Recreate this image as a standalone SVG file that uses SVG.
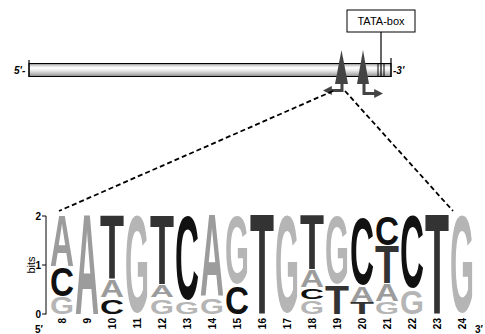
<svg xmlns="http://www.w3.org/2000/svg" width="485" height="334" viewBox="0 0 485 334">
  <defs>
    <linearGradient id="tube" x1="0" y1="0" x2="0" y2="1">
      <stop offset="0" stop-color="#777"/>
      <stop offset="0.12" stop-color="#c8c8c8"/>
      <stop offset="0.32" stop-color="#ffffff"/>
      <stop offset="0.5" stop-color="#f0f0f0"/>
      <stop offset="0.75" stop-color="#c4c4c4"/>
      <stop offset="1" stop-color="#8a8a8a"/>
    </linearGradient>
    <marker id="head" viewBox="0 0 10 10" refX="2" refY="5" markerWidth="3" markerHeight="3.4" orient="auto" markerUnits="strokeWidth">
      <path d="M0,0 L10,5 L0,10 Z" fill="#444"/>
    </marker>
  </defs>
  <style>
    .lbl { font-family: "Liberation Sans", Arial, sans-serif; fill: #000; }
    .end { font-size: 10px; font-weight: bold; font-style: italic; }
    .tick { font-size: 10px; font-weight: bold; text-anchor: end; }
    .pos { font-size: 10px; font-weight: bold; text-anchor: end; }
    .nt { font-family: "Liberation Sans", Arial, sans-serif; font-weight: bold; font-size: 100px; }
    .A { fill: #9c9c9c; }
    .C { fill: #111111; }
    .G { fill: #b5b5b5; }
    .T { fill: #333333; }
    .dash { fill: none; stroke: #000; stroke-width: 1.8; stroke-dasharray: 5 3; }
    .arrow { fill: none; stroke: #444; stroke-width: 3; marker-end: url(#head); }
    .site { fill: #444; }
  </style>

  <!-- promoter sequence drawn as a tube -->
  <g id="gene">
    <rect x="29" y="63.5" width="362" height="13" fill="url(#tube)" stroke="#000" stroke-width="1"/>
    <line x1="29" y1="60" x2="29" y2="77" stroke="#000" stroke-width="1.2"/>
    <line x1="391" y1="58" x2="391" y2="77" stroke="#000" stroke-width="1.2"/>
    <line x1="378" y1="63.5" x2="378" y2="76.5" stroke="#000" stroke-width="1"/>
    <line x1="384" y1="63.5" x2="384" y2="76.5" stroke="#000" stroke-width="1"/>
    <text class="lbl end" x="14" y="74">5'-</text>
    <text class="lbl end" x="393" y="74">-3'</text>
  </g>

  <g id="tata-box">
    <rect x="347" y="10" width="68" height="22" fill="#fff" stroke="#000" stroke-width="1"/>
    <text class="lbl" x="381" y="25" font-size="11" text-anchor="middle">TATA-box</text>
  </g>

  <!-- binding sites with their orientation arrows -->
  <g id="site-1">
    <polygon class="site" points="341.5,50 335,84 348,84"/>
    <path class="arrow" d="M342,82 V90.5 H330"/>
  </g>
  <g id="site-2">
    <polygon class="site" points="363,50 357,84 369,84"/>
    <path class="arrow" d="M364,82 V93.5 H376"/>
  </g>

  <g id="connectors">
    <line x1="381" y1="32" x2="381" y2="76.5" stroke="#000" stroke-width="1.2"/>
    <line class="dash" x1="333" y1="91" x2="59" y2="211"/>
    <line class="dash" x1="345" y1="91" x2="453" y2="211"/>
  </g>

  <!-- sequence logo -->
  <g id="logo">
    <g id="axis" stroke="#000" stroke-width="1">
      <line x1="46" y1="216" x2="46" y2="314.5"/>
      <line x1="42" y1="216" x2="46" y2="216"/>
      <line x1="42" y1="265" x2="46" y2="265"/>
      <line x1="42" y1="314" x2="46" y2="314"/>
    </g>
    <text class="lbl tick" x="41" y="219.5">2</text>
    <text class="lbl tick" x="41" y="268.5">1</text>
    <text class="lbl tick" x="41" y="317.5">0</text>
    <text class="lbl" font-size="11" text-anchor="middle" transform="translate(35,265) rotate(-90)">bits</text>
    <text class="lbl" font-size="10" font-weight="bold" x="35" y="333">5′</text>
    <text class="lbl" font-size="10" font-weight="bold" x="475" y="333">3′</text>

    <!-- position 8 -->
    <text class="nt A" transform="translate(50,266) scale(1,0.7267)" textLength="24" lengthAdjust="spacingAndGlyphs">A</text>
    <text class="nt C" transform="translate(50,295.5) scale(1,0.4073)" textLength="24" lengthAdjust="spacingAndGlyphs">C</text>
    <text class="nt G" transform="translate(50,313.7) scale(1,0.2388)" textLength="24" lengthAdjust="spacingAndGlyphs">G</text>
    <!-- position 9 -->
    <text class="nt A" transform="translate(75,314) scale(1,1.4244)" textLength="24" lengthAdjust="spacingAndGlyphs">A</text>
    <!-- position 10 -->
    <text class="nt T" transform="translate(100,279) scale(1,0.9157)" textLength="24" lengthAdjust="spacingAndGlyphs">T</text>
    <text class="nt A" transform="translate(100,297) scale(1,0.2326)" textLength="24" lengthAdjust="spacingAndGlyphs">A</text>
    <text class="nt C" transform="translate(100,313.75) scale(1,0.2107)" textLength="24" lengthAdjust="spacingAndGlyphs">C</text>
    <!-- position 11 -->
    <text class="nt G" transform="translate(125,312.35) scale(1,1.3764)" textLength="24" lengthAdjust="spacingAndGlyphs">G</text>
    <!-- position 12 -->
    <text class="nt T" transform="translate(150,284) scale(1,0.9884)" textLength="24" lengthAdjust="spacingAndGlyphs">T</text>
    <text class="nt A" transform="translate(150,297) scale(1,0.1599)" textLength="24" lengthAdjust="spacingAndGlyphs">A</text>
    <text class="nt G" transform="translate(150,313.75) scale(1,0.2107)" textLength="24" lengthAdjust="spacingAndGlyphs">G</text>
    <!-- position 13 -->
    <text class="nt C" transform="translate(175,298.6) scale(1,1.1798)" textLength="24" lengthAdjust="spacingAndGlyphs">C</text>
    <text class="nt G" transform="translate(175,313.8) scale(1,0.1685)" textLength="24" lengthAdjust="spacingAndGlyphs">G</text>
    <!-- position 14 -->
    <text class="nt A" transform="translate(200,296) scale(1,1.1628)" textLength="24" lengthAdjust="spacingAndGlyphs">A</text>
    <text class="nt G" transform="translate(200,313.73) scale(1,0.2247)" textLength="24" lengthAdjust="spacingAndGlyphs">G</text>
    <!-- position 15 -->
    <text class="nt G" transform="translate(225,282.85) scale(1,0.9551)" textLength="24" lengthAdjust="spacingAndGlyphs">G</text>
    <text class="nt C" transform="translate(225,313.53) scale(1,0.3933)" textLength="24" lengthAdjust="spacingAndGlyphs">C</text>
    <!-- position 16 -->
    <text class="nt T" transform="translate(250,314) scale(1,1.4244)" textLength="24" lengthAdjust="spacingAndGlyphs">T</text>
    <!-- position 17 -->
    <text class="nt G" transform="translate(275,312.35) scale(1,1.3764)" textLength="24" lengthAdjust="spacingAndGlyphs">G</text>
    <!-- position 18 -->
    <text class="nt T" transform="translate(300,269) scale(1,0.7703)" textLength="24" lengthAdjust="spacingAndGlyphs">T</text>
    <text class="nt A" transform="translate(300,287) scale(1,0.2326)" textLength="24" lengthAdjust="spacingAndGlyphs">A</text>
    <text class="nt C" transform="translate(300,298.81) scale(1,0.1545)" textLength="24" lengthAdjust="spacingAndGlyphs">C</text>
    <text class="nt G" transform="translate(300,313.78) scale(1,0.1826)" textLength="24" lengthAdjust="spacingAndGlyphs">G</text>
    <!-- position 19 -->
    <text class="nt G" transform="translate(325,282.85) scale(1,0.9551)" textLength="24" lengthAdjust="spacingAndGlyphs">G</text>
    <text class="nt T" transform="translate(325,314) scale(1,0.4070)" textLength="24" lengthAdjust="spacingAndGlyphs">T</text>
    <!-- position 20 -->
    <text class="nt C" transform="translate(350,283.9) scale(1,0.9410)" textLength="24" lengthAdjust="spacingAndGlyphs">C</text>
    <text class="nt A" transform="translate(350,302) scale(1,0.2180)" textLength="24" lengthAdjust="spacingAndGlyphs">A</text>
    <text class="nt T" transform="translate(350,314) scale(1,0.1599)" textLength="24" lengthAdjust="spacingAndGlyphs">T</text>
    <!-- position 21 -->
    <text class="nt C" transform="translate(375,244.51) scale(1,0.4073)" textLength="24" lengthAdjust="spacingAndGlyphs">C</text>
    <text class="nt T" transform="translate(375,283) scale(1,0.5378)" textLength="24" lengthAdjust="spacingAndGlyphs">T</text>
    <text class="nt A" transform="translate(375,301) scale(1,0.2326)" textLength="24" lengthAdjust="spacingAndGlyphs">A</text>
    <text class="nt G" transform="translate(375,313.8) scale(1,0.1685)" textLength="24" lengthAdjust="spacingAndGlyphs">G</text>
    <!-- position 22 -->
    <text class="nt C" transform="translate(400,286.79) scale(1,1.0112)" textLength="24" lengthAdjust="spacingAndGlyphs">C</text>
    <text class="nt G" transform="translate(400,313.6) scale(1,0.3371)" textLength="24" lengthAdjust="spacingAndGlyphs">G</text>
    <!-- position 23 -->
    <text class="nt T" transform="translate(425,314) scale(1,1.4244)" textLength="24" lengthAdjust="spacingAndGlyphs">T</text>
    <!-- position 24 -->
    <text class="nt G" transform="translate(450,312.35) scale(1,1.3764)" textLength="24" lengthAdjust="spacingAndGlyphs">G</text>

    <!-- position numbers -->
    <g class="lbl pos">
      <text transform="translate(66,318) rotate(-90)">8</text>
      <text transform="translate(91,318) rotate(-90)">9</text>
      <text transform="translate(116,318) rotate(-90)">10</text>
      <text transform="translate(141,318) rotate(-90)">11</text>
      <text transform="translate(166,318) rotate(-90)">12</text>
      <text transform="translate(191,318) rotate(-90)">13</text>
      <text transform="translate(216,318) rotate(-90)">14</text>
      <text transform="translate(241,318) rotate(-90)">15</text>
      <text transform="translate(266,318) rotate(-90)">16</text>
      <text transform="translate(291,318) rotate(-90)">17</text>
      <text transform="translate(316,318) rotate(-90)">18</text>
      <text transform="translate(341,318) rotate(-90)">19</text>
      <text transform="translate(366,318) rotate(-90)">20</text>
      <text transform="translate(391,318) rotate(-90)">21</text>
      <text transform="translate(416,318) rotate(-90)">22</text>
      <text transform="translate(441,318) rotate(-90)">23</text>
      <text transform="translate(466,318) rotate(-90)">24</text>
    </g>
  </g>
</svg>
